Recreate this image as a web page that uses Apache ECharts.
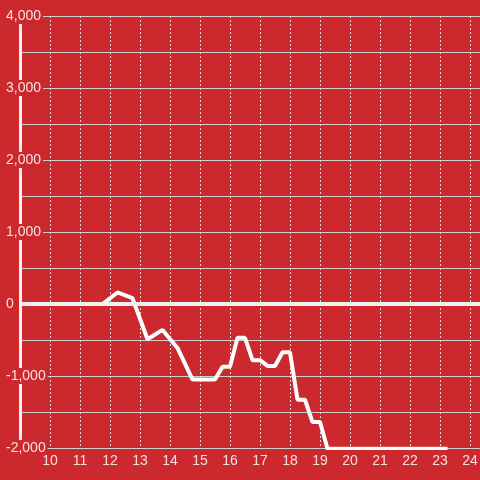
<!DOCTYPE html>
<html>
<head>
<meta charset="utf-8">
<script src="https://cdn.jsdelivr.net/npm/echarts@6/dist/echarts.min.js"></script>
<style>
  html, body { margin: 0; padding: 0; background: #cc292e; }
  #chart { width: 480px; height: 480px; }
</style>
</head>
<body>
<div id="chart"></div>
<script>
// hour of day
var hours = [9, 11.75, 12.25, 12.75, 13.25, 13.75, 14.25, 14.75, 15.5, 15.75, 16, 16.25, 16.5,
  16.75, 17, 17.25, 17.5, 17.75, 18, 18.25, 18.5, 18.75, 19, 19.25, 23.25];
var values = [0, 0, 160, 80, -490, -360, -610, -1050, -1050, -870, -870, -470, -470,
  -780, -780, -860, -860, -670, -670, -1330, -1330, -1640, -1640, -2010, -2010];
var yLabels = [-2000, -1000, 0, 1000, 2000, 3000, 4000];

var bg = '#cc292e';
var fontColor = 'rgba(255,255,255,0.85)';

var points = [];
hours.forEach(function (h, i) {
  points.push([h, values[i]]);
});

var option = {
  backgroundColor: bg,
  animation: false,
  grid: {
    left: 20,
    top: 16,
    width: 480,
    height: 432,
    containLabel: false,
    outerBoundsMode: 'none'
  },
  xAxis: {
    type: 'value',
    min: 9,
    max: 25,
    interval: 1,
    axisLine: { show: false },
    axisTick: { show: false },
    axisLabel: {
      color: fontColor,
      fontSize: 14,
      fontFamily: 'Liberation Sans, Arial, sans-serif',
      margin: 6,
      formatter: function (v) {
        return v > 9 ? String(v) : '';
      }
    },
    splitLine: {
      show: true,
      lineStyle: { color: '#dcdcdc', width: 1, type: [2, 2] }
    }
  },
  yAxis: {
    type: 'value',
    min: -2000,
    max: 4000,
    interval: 500,
    axisLine: {
      show: true,
      onZero: false,
      lineStyle: { color: '#f2f2f2', width: 3 }
    },
    axisTick: { show: false },
    axisLabel: {
      color: fontColor,
      fontSize: 14,
      fontFamily: 'Liberation Sans, Arial, sans-serif',
      align: 'left',
      margin: 16,
      backgroundColor: bg,
      padding: [1, 2],
      formatter: function (v) {
        return yLabels.indexOf(v) >= 0 ? v.toLocaleString('en-US') : '';
      }
    },
    splitLine: {
      show: true,
      lineStyle: { color: '#cfcfcf', width: 1 }
    }
  },
  series: [{
    type: 'line',
    showSymbol: false,
    smooth: false,
    z: 3,
    lineStyle: { color: '#ffffff', width: 4 },
    data: points,
    markLine: {
      silent: true,
      symbol: 'none',
      label: { show: false },
      lineStyle: { color: '#f0f0f0', width: 4, type: 'solid' },
      data: [{ yAxis: 0 }]
    }
  }]
};

var myChart = echarts.init(document.getElementById('chart'));
myChart.setOption(option);
</script>
</body>
</html>
